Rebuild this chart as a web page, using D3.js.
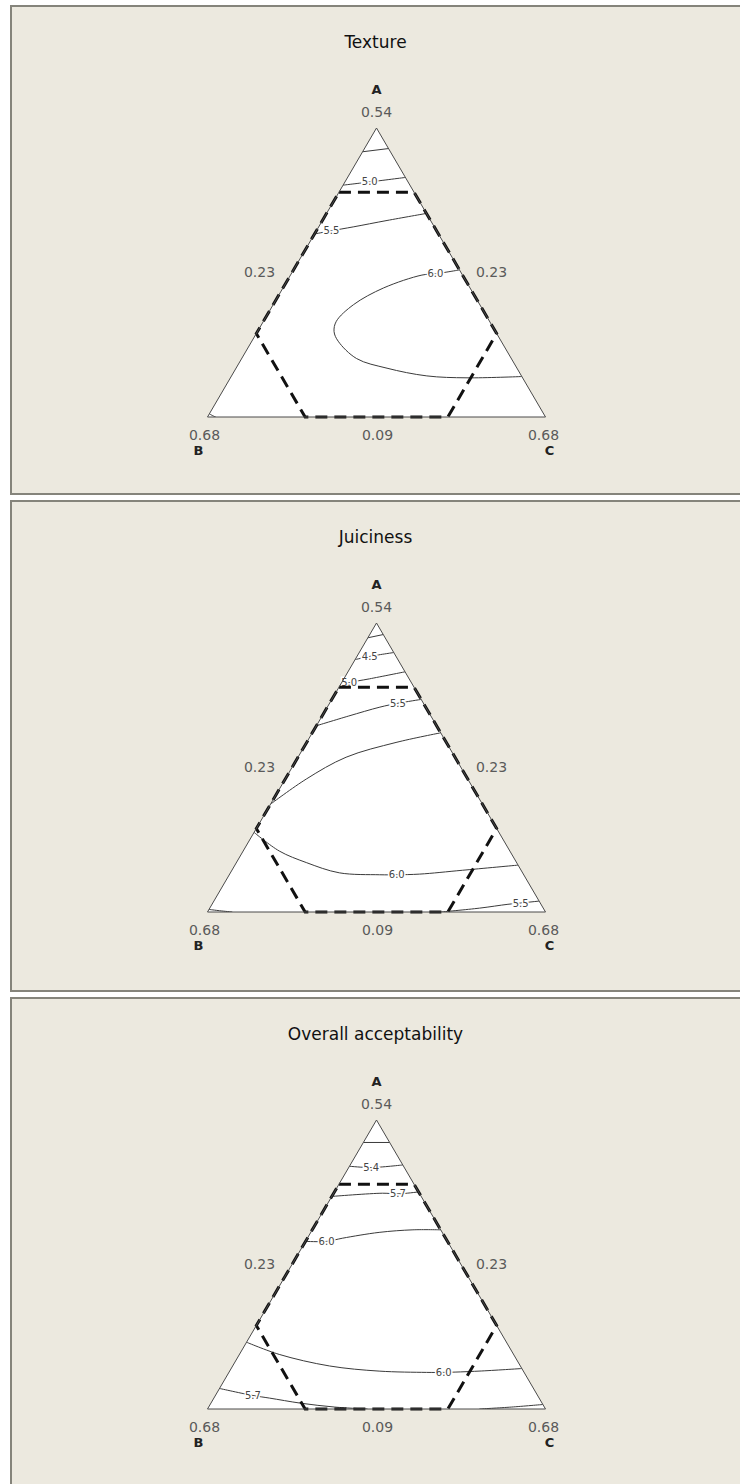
<!DOCTYPE html>
<html>
<head>
<meta charset="utf-8">
<script src="https://cdn.jsdelivr.net/npm/d3@7"></script>
<style>
  html, body { margin: 0; padding: 0; background: #ffffff; }
  svg { display: block; }
  text { font-family: "DejaVu Sans", Verdana, sans-serif; }
</style>
</head>
<body>
<svg id="chart" width="740" height="1484"></svg>
<script>
// ---- Mixture design: component names and bounds (actual proportions) ----
const titles = ["Texture", "Juiciness", "Overall acceptability"];
const vertexNames = ["A", "B", "C"];
const componentMax = [0.54, 0.68, 0.68];
const componentMin = [0.09, 0.23, 0.23];

// Constrained experimental region (A, B, C), traced as a closed polygon
const designRegion = [
  [0.44, 0.33, 0.23],
  [0.44, 0.23, 0.33],
  [0.22, 0.23, 0.55],
  [0.09, 0.36, 0.55],
  [0.09, 0.55, 0.36],
  [0.22, 0.55, 0.23]
];

// Contour traces: each point is a blend [A, B, C]; labelAt = index of the point carrying the level label
const textureContours = [
  { level: 4.5, labelAt: null, pts: [[0.503, 0.267, 0.230], [0.508, 0.230, 0.262]] },
  { level: 5.0, labelAt: 1, pts: [[0.451, 0.319, 0.230], [0.456, 0.281, 0.263], [0.463, 0.230, 0.307]] },
  { level: 5.5, labelAt: 1, pts: [[0.375, 0.395, 0.230], [0.380, 0.370, 0.250], [0.386, 0.338, 0.276], [0.396, 0.288, 0.316], [0.407, 0.230, 0.363]] },
  { level: 6.0, labelAt: 1, pts: [[0.319, 0.230, 0.451], [0.313, 0.265, 0.422], [0.311, 0.284, 0.405], [0.291, 0.345, 0.364], [0.265, 0.398, 0.337], [0.239, 0.434, 0.327], [0.223, 0.445, 0.332], [0.208, 0.447, 0.345], [0.181, 0.436, 0.383], [0.166, 0.403, 0.431], [0.154, 0.356, 0.490], [0.151, 0.304, 0.545], [0.153, 0.230, 0.617]] },
  { level: 5.0, labelAt: null, pts: [[0.095, 0.675, 0.230], [0.092, 0.672, 0.236], [0.090, 0.669, 0.241]] }
];

const juicinessContours = [
  { level: 4.0, labelAt: null, pts: [[0.517, 0.253, 0.230], [0.522, 0.230, 0.248]] },
  { level: 4.5, labelAt: 1, pts: [[0.483, 0.287, 0.230], [0.488, 0.265, 0.247], [0.494, 0.230, 0.276]] },
  { level: 5.0, labelAt: 1, pts: [[0.441, 0.329, 0.230], [0.447, 0.313, 0.240], [0.453, 0.283, 0.264], [0.464, 0.230, 0.306]] },
  { level: 5.5, labelAt: 3, pts: [[0.380, 0.390, 0.230], [0.395, 0.340, 0.265], [0.409, 0.291, 0.300], [0.415, 0.264, 0.321], [0.421, 0.230, 0.349]] },
  { level: 6.0, labelAt: null, pts: [[0.258, 0.512, 0.230], [0.297, 0.445, 0.258], [0.331, 0.375, 0.294], [0.354, 0.297, 0.349], [0.369, 0.230, 0.401]] },
  { level: 6.0, labelAt: 5, pts: [[0.214, 0.556, 0.230], [0.185, 0.537, 0.278], [0.167, 0.510, 0.323], [0.151, 0.474, 0.375], [0.148, 0.422, 0.430], [0.148, 0.399, 0.453], [0.149, 0.368, 0.483], [0.155, 0.308, 0.537], [0.163, 0.230, 0.607]] },
  { level: 5.5, labelAt: 3, pts: [[0.090, 0.369, 0.541], [0.096, 0.315, 0.589], [0.102, 0.274, 0.624], [0.104, 0.256, 0.640], [0.107, 0.230, 0.663]] },
  { level: 5.5, labelAt: null, pts: [[0.094, 0.676, 0.230], [0.092, 0.663, 0.245], [0.090, 0.647, 0.263]] }
];

const overallContours = [
  { level: 5.1, labelAt: null, pts: [[0.505, 0.265, 0.230], [0.505, 0.230, 0.265]] },
  { level: 5.4, labelAt: 1, pts: [[0.468, 0.302, 0.230], [0.466, 0.274, 0.260], [0.470, 0.230, 0.300]] },
  { level: 5.7, labelAt: 2, pts: [[0.421, 0.349, 0.230], [0.426, 0.279, 0.295], [0.425, 0.259, 0.316], [0.428, 0.230, 0.342]] },
  { level: 6.0, labelAt: 1, pts: [[0.351, 0.419, 0.230], [0.351, 0.391, 0.258], [0.356, 0.367, 0.277], [0.365, 0.314, 0.321], [0.369, 0.267, 0.364], [0.369, 0.230, 0.401]] },
  { level: 6.0, labelAt: 5, pts: [[0.194, 0.576, 0.230], [0.175, 0.542, 0.283], [0.157, 0.484, 0.359], [0.149, 0.422, 0.429], [0.147, 0.360, 0.493], [0.147, 0.337, 0.516], [0.149, 0.289, 0.562], [0.153, 0.230, 0.617]] },
  { level: 5.7, labelAt: 1, pts: [[0.122, 0.648, 0.230], [0.111, 0.609, 0.280], [0.107, 0.589, 0.304], [0.099, 0.551, 0.350], [0.093, 0.509, 0.398], [0.090, 0.467, 0.443]] },
  { level: 5.7, labelAt: null, pts: [[0.090, 0.318, 0.592], [0.093, 0.274, 0.633], [0.097, 0.230, 0.673]] }
];

// ---- Layout ----
const svg = d3.select("#chart");
const cx = 376.5, halfW = 169, triH = 289;
const panels = [
  { title: titles[0], contours: textureContours, top: 6, bottom: 494, apex: 128 },
  { title: titles[1], contours: juicinessContours, top: 501, bottom: 991, apex: 623 },
  { title: titles[2], contours: overallContours, top: 998, bottom: 1500, apex: 1120 }
];

const fmt = d3.format(".2f");
const fmtLevel = d3.format(".1f");

// triangle corners as blends
const corners = [0, 1, 2].map(i => componentMin.map((m, j) => j === i ? componentMax[j] : m));

panels.forEach((p, pi) => {
  const g = svg.append("g");
  const base = p.apex + triH;

  // A drives height; (C - B) drives horizontal position
  const yScale = d3.scaleLinear().domain([componentMin[0], componentMax[0]]).range([base, p.apex]);
  const xScale = d3.scaleLinear()
    .domain([-(componentMax[1] - componentMin[1]), componentMax[2] - componentMin[2]])
    .range([cx - halfW, cx + halfW]);
  const proj = d => [xScale(d[2] - d[1]), yScale(d[0])];

  // panel frame
  g.append("rect")
    .attr("x", 11).attr("y", p.top)
    .attr("width", 760).attr("height", p.bottom - p.top)
    .attr("fill", "#ece9df")
    .attr("stroke", "#85847b").attr("stroke-width", 2);

  g.append("text")
    .attr("x", cx - 1).attr("y", p.apex - 86).attr("dy", "0.35em")
    .attr("text-anchor", "middle")
    .attr("font-size", 17).attr("fill", "#111")
    .text(p.title);

  const triPath = d3.line()(corners.map(proj)) + "Z";
  const clipId = "tri" + pi;
  g.append("clipPath").attr("id", clipId).append("path").attr("d", triPath);

  g.append("path").attr("d", triPath).attr("fill", "#ffffff");

  // contour lines
  const line = d3.line().curve(d3.curveCatmullRom.alpha(0.5));
  const cg = g.append("g").attr("clip-path", `url(#${clipId})`);
  cg.selectAll("path.contour")
    .data(p.contours)
    .join("path")
    .attr("class", "contour")
    .attr("d", c => line(c.pts.map(proj)))
    .attr("fill", "none")
    .attr("stroke", "#3a3a3a")
    .attr("stroke-width", 1);

  // contour level labels
  g.selectAll("text.level")
    .data(p.contours.filter(c => c.labelAt !== null))
    .join("text")
    .attr("class", "level")
    .attr("x", c => proj(c.pts[c.labelAt])[0])
    .attr("y", c => proj(c.pts[c.labelAt])[1])
    .attr("dy", "0.35em")
    .attr("text-anchor", "middle")
    .attr("font-size", 10)
    .attr("fill", "#444")
    .attr("stroke", "#ffffff").attr("stroke-width", 3)
    .attr("paint-order", "stroke")
    .text(c => fmtLevel(c.level));

  // constrained region
  g.append("path")
    .attr("d", d3.line()(designRegion.map(proj)) + "Z")
    .attr("fill", "none")
    .attr("stroke", "#111")
    .attr("stroke-width", 3)
    .attr("stroke-dasharray", "12,7");

  // triangle outline
  g.append("path").attr("d", triPath)
    .attr("fill", "none").attr("stroke", "#4a4a4a").attr("stroke-width", 1);

  // vertex and side labels
  const tick = (x, y, t) => g.append("text")
    .attr("x", x).attr("y", y).attr("dy", "0.35em")
    .attr("text-anchor", "middle").attr("font-size", 14).attr("fill", "#5a5a5a").text(t);
  const name = (x, y, t) => g.append("text")
    .attr("x", x).attr("y", y).attr("dy", "0.35em")
    .attr("text-anchor", "middle").attr("font-size", 13).attr("font-weight", "bold").attr("fill", "#222").text(t);

  const [ax, ay] = proj(corners[0]);
  const [bx, by] = proj(corners[1]);
  const [ccx, ccy] = proj(corners[2]);
  name(ax, ay - 39, vertexNames[0]);
  tick(ax, ay - 16, fmt(componentMax[0]));
  tick(bx - 3, by + 18, fmt(componentMax[1]));
  name(bx - 9, by + 33, vertexNames[1]);
  tick(ccx - 2, ccy + 18, fmt(componentMax[2]));
  name(ccx + 4, ccy + 33, vertexNames[2]);
  const midY = yScale((componentMin[0] + componentMax[0]) / 2);
  tick(cx - 117, midY, fmt(componentMin[2]));
  tick(cx + 115, midY, fmt(componentMin[1]));
  tick(cx + 1, base + 18, fmt(componentMin[0]));
});
</script>
</body>
</html>
